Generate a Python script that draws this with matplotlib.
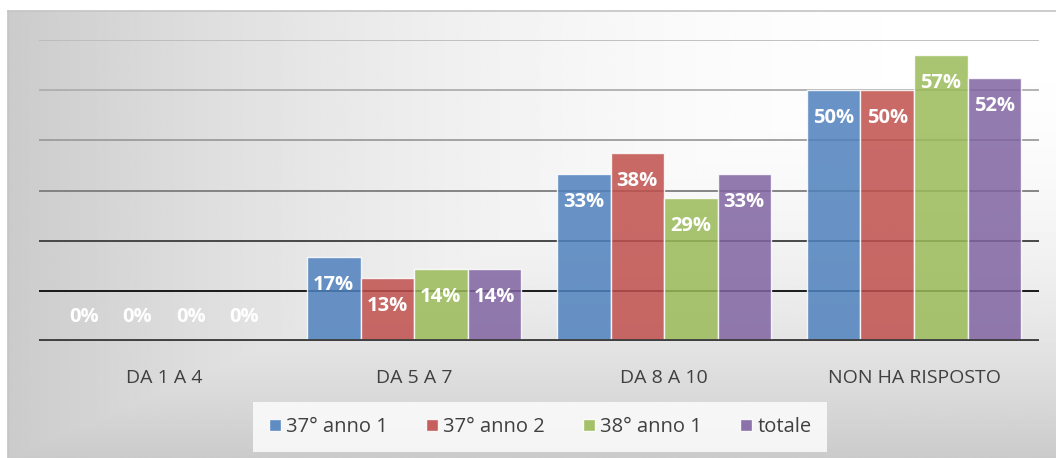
import numpy as np
import matplotlib
matplotlib.use('Agg')
from matplotlib import pyplot as plt
from matplotlib.lines import Line2D

plt.rcParams['font.family'] = ['Open Sans', 'DejaVu Sans']

categories = ['DA 1 A 4', 'DA 5 A 7', 'DA 8 A 10', 'NON HA RISPOSTO']
series_names = ['37° anno 1', '37° anno 2', '38° anno 1', 'totale']
anno37_1 = [0, 16.7, 33.3, 50.0]
anno37_2 = [0, 12.5, 37.5, 50.0]
anno38_1 = [0, 14.3, 28.6, 57.1]
totale = [0, 14.3, 33.3, 52.4]
labels = [['0%', '17%', '33%', '50%'],
          ['0%', '13%', '38%', '50%'],
          ['0%', '14%', '29%', '57%'],
          ['0%', '14%', '33%', '52%']]
colors = ['#4F81BD', '#C0504D', '#9BBB59', '#8064A2']

W, H = 1056, 458
fig = plt.figure(figsize=(W / 100, H / 100), dpi=100)

# background with gradient from top right corner (rectangular path)
bg = fig.add_axes([8 / W, 0, 1 - 8 / W, (H - 11) / H])
xx, yy = np.meshgrid(np.linspace(1, 0, 400), np.linspace(0, 1, 200))
d = np.maximum(xx, yy)
val = (255 - 52 * d ** 2.2) / 255
bg.imshow(val, cmap='gray', vmin=0, vmax=1, aspect='auto', extent=[0, 1, 1, 0])
bg.set_xlim(0, 1)
bg.set_ylim(1, 0)
bg.axis('off')
fig.add_artist(Line2D([8 / W, 8 / W], [0, 1 - 11 / H], color='#c4c4c4', lw=1.2))
fig.add_artist(Line2D([8 / W, 1], [1 - 11 / H, 1 - 11 / H], color='#c4c4c4', lw=1.2))

ax = fig.add_axes([39 / W, (H - 341) / H, 1000 / W, 301 / H])
ax.patch.set_alpha(0)
ax.set_xlim(-0.5, 3.5)
ax.set_ylim(0, 60)

grid_colors = {10: '#0a0a0a', 20: '#3c3c3c', 30: '#7c7c7c', 40: '#9c9c9c', 50: '#aeaeae', 60: '#bcbcbc'}
for g, c in grid_colors.items():
    ax.axhline(g, color=c, lw=1.3, zorder=1)
ax.axhline(0, color='#404040', lw=2.8, zorder=4)

x = np.arange(len(categories))
bw = 0.214
all_series = [anno37_1, anno37_2, anno38_1, totale]
for i, vals in enumerate(all_series):
    pos = x + (i - 1.5) * bw
    ax.bar(pos, vals, width=bw, color=colors[i], alpha=0.85,
           edgecolor=(1, 1, 1, 0.6), linewidth=1, zorder=2)
    for p, v, lab in zip(pos, vals, labels[i]):
        off = 24 if v == 0 else -28
        ax.annotate(lab, (p, v), xytext=(0, off * 0.72), textcoords='offset points',
                    ha='center', va='center', color='white', fontsize=14.5,
                    fontweight='bold', zorder=5)

ax.set_xticks(x)
ax.set_xticklabels(categories, fontsize=14, color='#404040')
ax.tick_params(axis='x', length=0, pad=20)
ax.set_yticks([])
for s in ax.spines.values():
    s.set_visible(False)

handles = [Line2D([], [], marker='s', linestyle='none', markersize=9,
                  markerfacecolor=c, markeredgecolor=(1, 1, 1, 0.6), alpha=0.9)
           for c in colors]
leg = fig.legend(handles, series_names, loc='center', ncol=4,
                 bbox_to_anchor=(540 / W, 1 - 427 / H), fontsize=14.5,
                 frameon=True, fancybox=False, handlelength=0.6,
                 handletextpad=0.25, columnspacing=1.9, borderpad=0.75)
leg.get_frame().set_facecolor((1, 1, 1, 0.35))
leg.get_frame().set_edgecolor('none')
for t in leg.get_texts():
    t.set_color('#404040')

plt.savefig('out.png', dpi=100)
